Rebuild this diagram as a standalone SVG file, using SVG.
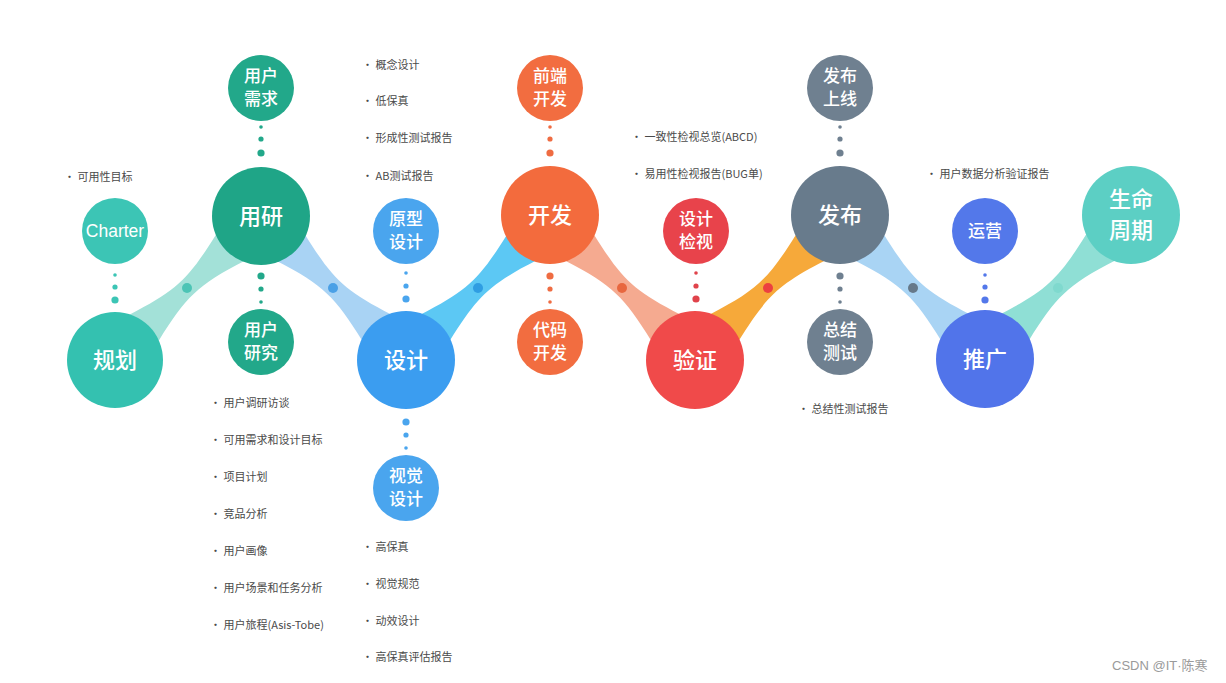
<svg xmlns="http://www.w3.org/2000/svg" width="1226" height="683" viewBox="0 0 1226 683">
<defs>
<style>
.t{font-family:"Noto Sans CJK SC","Liberation Sans",sans-serif;fill:#fff;text-anchor:middle}
.tm{font-size:22px;font-weight:500}
.ts{font-size:17px;font-weight:500}
.note{font-family:"Noto Sans CJK SC","Liberation Sans",sans-serif;font-size:11px;fill:#4a4a4a}
.wm{font-family:"Liberation Sans","Noto Sans CJK SC",sans-serif;font-size:13px;fill:#9a9a9a}
</style>
<path id="band" d="M0,0 L14.8,-45.6 C63,-70.2 73.8,-82.1 101.1,-125.5 L145,-145 L130.2,-99.4 C82,-74.8 71.2,-62.9 43.9,-19.5 Z"/>
</defs>
<rect width="1226" height="683" fill="#ffffff"/>

<g id="connectors">
  <use href="#band" transform="translate(115,360)" fill="#a3e1d8"/>
  <use href="#band" transform="translate(406,360) scale(-1,1)" fill="#a9d3f4"/>
  <use href="#band" transform="translate(406,360)" fill="#5cc8f4"/>
  <use href="#band" transform="translate(695,360) scale(-1,1)" fill="#f5aa90"/>
  <use href="#band" transform="translate(695,360)" fill="#f6a93a"/>
  <use href="#band" transform="translate(985,360) scale(-1,1)" fill="#a9d4f4"/>
  <use href="#band" transform="translate(985,360)" fill="#8fdfd5"/>
  <circle cx="187" cy="288" r="5" fill="#4cc4b5"/>
  <circle cx="333" cy="288" r="5" fill="#4aa0e6"/>
  <circle cx="478" cy="288" r="5" fill="#2f9de2"/>
  <circle cx="622" cy="288" r="5" fill="#e8673f"/>
  <circle cx="768" cy="288" r="5" fill="#ec4040"/>
  <circle cx="913" cy="288" r="5" fill="#66798a"/>
  <circle cx="1058" cy="288" r="5" fill="#7fd9ce"/>
  <g fill="#3cc5b5"><circle cx="115" cy="275" r="1.8"/><circle cx="115" cy="287" r="2.6"/><circle cx="115" cy="300" r="3.6"/></g>
  <g fill="#22a88a"><circle cx="261" cy="127" r="1.8"/><circle cx="261" cy="139" r="2.6"/><circle cx="261" cy="153" r="3.6"/></g>
  <g fill="#22a88a"><circle cx="261" cy="276" r="3.6"/><circle cx="261" cy="289" r="2.6"/><circle cx="261" cy="302" r="1.8"/></g>
  <g fill="#4aa5ee"><circle cx="406" cy="273" r="1.8"/><circle cx="406" cy="286" r="2.6"/><circle cx="406" cy="299" r="3.6"/></g>
  <g fill="#4aa5ee"><circle cx="406" cy="422" r="3.6"/><circle cx="406" cy="435" r="2.6"/><circle cx="406" cy="448" r="1.8"/></g>
  <g fill="#ef6c42"><circle cx="550" cy="127" r="1.8"/><circle cx="550" cy="139" r="2.6"/><circle cx="550" cy="153" r="3.6"/></g>
  <g fill="#ef6c42"><circle cx="550" cy="276" r="3.6"/><circle cx="550" cy="289" r="2.6"/><circle cx="550" cy="302" r="1.8"/></g>
  <g fill="#e0434b"><circle cx="696" cy="273" r="1.8"/><circle cx="696" cy="286" r="2.6"/><circle cx="696" cy="299" r="3.6"/></g>
  <g fill="#6f8090"><circle cx="840" cy="127" r="1.8"/><circle cx="840" cy="139" r="2.6"/><circle cx="840" cy="153" r="3.6"/></g>
  <g fill="#6f8090"><circle cx="840" cy="276" r="3.6"/><circle cx="840" cy="289" r="2.6"/><circle cx="840" cy="302" r="1.8"/></g>
  <g fill="#5378ea"><circle cx="985" cy="275" r="1.8"/><circle cx="985" cy="287" r="2.6"/><circle cx="985" cy="300" r="3.6"/></g>
</g>

<g id="node-guihua"><circle cx="115" cy="360" r="48" fill="#34c1b0"/><text class="t tm" x="115" y="368">规划</text></g>
<g id="node-charter"><circle cx="115" cy="231" r="33" fill="#3cc5b5"/><text class="t" x="115" y="237" style="font-family:'Liberation Sans',sans-serif;font-size:17.5px">Charter</text></g>
<g id="node-yongyan"><circle cx="261" cy="216" r="49" fill="#1fa587"/><text class="t tm" x="261" y="224">用研</text></g>
<g id="node-xuqiu"><circle cx="261" cy="88" r="33" fill="#22a88a"/><text class="t ts" x="261" y="82">用户</text><text class="t ts" x="261" y="105">需求</text></g>
<g id="node-yanjiu"><circle cx="261" cy="342" r="33" fill="#22a88a"/><text class="t ts" x="261" y="336">用户</text><text class="t ts" x="261" y="359">研究</text></g>
<g id="node-sheji"><circle cx="406" cy="360" r="49" fill="#3b9df0"/><text class="t tm" x="406" y="368">设计</text></g>
<g id="node-yuanxing"><circle cx="406" cy="231" r="33" fill="#4aa5ee"/><text class="t ts" x="406" y="225">原型</text><text class="t ts" x="406" y="248">设计</text></g>
<g id="node-shijue"><circle cx="406" cy="488" r="33" fill="#4aa5ee"/><text class="t ts" x="406" y="482">视觉</text><text class="t ts" x="406" y="505">设计</text></g>
<g id="node-kaifa"><circle cx="550" cy="215" r="49" fill="#f36b3d"/><text class="t tm" x="550" y="223">开发</text></g>
<g id="node-qianduan"><circle cx="550" cy="88" r="33" fill="#f26d40"/><text class="t ts" x="550" y="82">前端</text><text class="t ts" x="550" y="105">开发</text></g>
<g id="node-daima"><circle cx="550" cy="342" r="33" fill="#f26d40"/><text class="t ts" x="550" y="336">代码</text><text class="t ts" x="550" y="359">开发</text></g>
<g id="node-yanzheng"><circle cx="695" cy="360" r="49" fill="#f04a4a"/><text class="t tm" x="695" y="368">验证</text></g>
<g id="node-jianshi"><circle cx="696" cy="231" r="33" fill="#e8434b"/><text class="t ts" x="696" y="225">设计</text><text class="t ts" x="696" y="248">检视</text></g>
<g id="node-fabu"><circle cx="840" cy="215" r="49" fill="#687b8c"/><text class="t tm" x="840" y="223">发布</text></g>
<g id="node-shangxian"><circle cx="840" cy="88" r="33" fill="#6f8090"/><text class="t ts" x="840" y="82">发布</text><text class="t ts" x="840" y="105">上线</text></g>
<g id="node-zongjie"><circle cx="840" cy="342" r="33" fill="#6f8090"/><text class="t ts" x="840" y="336">总结</text><text class="t ts" x="840" y="359">测试</text></g>
<g id="node-tuiguang"><circle cx="985" cy="359" r="49" fill="#5174ea"/><text class="t tm" x="985" y="367">推广</text></g>
<g id="node-yunying"><circle cx="985" cy="231" r="33" fill="#5378ea"/><text class="t ts" x="985" y="237">运营</text></g>
<g id="node-shengming"><circle cx="1131" cy="215" r="49" fill="#5ccfc4"/><text class="t" x="1131" y="207" style="font-size:22px;font-weight:500">生命</text><text class="t" x="1131" y="238" style="font-size:22px;font-weight:500">周期</text></g>

<g id="notes">
  <text class="note" x="64" y="181">·  可用性目标</text>
  <text class="note" x="362" y="69">·  概念设计</text>
  <text class="note" x="362" y="105">·  低保真</text>
  <text class="note" x="362" y="142">·  形成性测试报告</text>
  <text class="note" x="362" y="180">·  AB测试报告</text>
  <text class="note" x="210" y="407">·  用户调研访谈</text>
  <text class="note" x="210" y="444">·  可用需求和设计目标</text>
  <text class="note" x="210" y="481">·  项目计划</text>
  <text class="note" x="210" y="518">·  竞品分析</text>
  <text class="note" x="210" y="555">·  用户画像</text>
  <text class="note" x="210" y="592">·  用户场景和任务分析</text>
  <text class="note" x="210" y="629">·  用户旅程(Asis-Tobe)</text>
  <text class="note" x="362" y="551">·  高保真</text>
  <text class="note" x="362" y="588">·  视觉规范</text>
  <text class="note" x="362" y="625">·  动效设计</text>
  <text class="note" x="362" y="661">·  高保真评估报告</text>
  <text class="note" x="631" y="141">·  一致性检视总览(ABCD)</text>
  <text class="note" x="631" y="178">·  易用性检视报告(BUG单)</text>
  <text class="note" x="798" y="413">·  总结性测试报告</text>
  <text class="note" x="926" y="178">·  用户数据分析验证报告</text>
</g>
<text class="wm" x="1112" y="670">CSDN @IT·陈寒</text>
</svg>
